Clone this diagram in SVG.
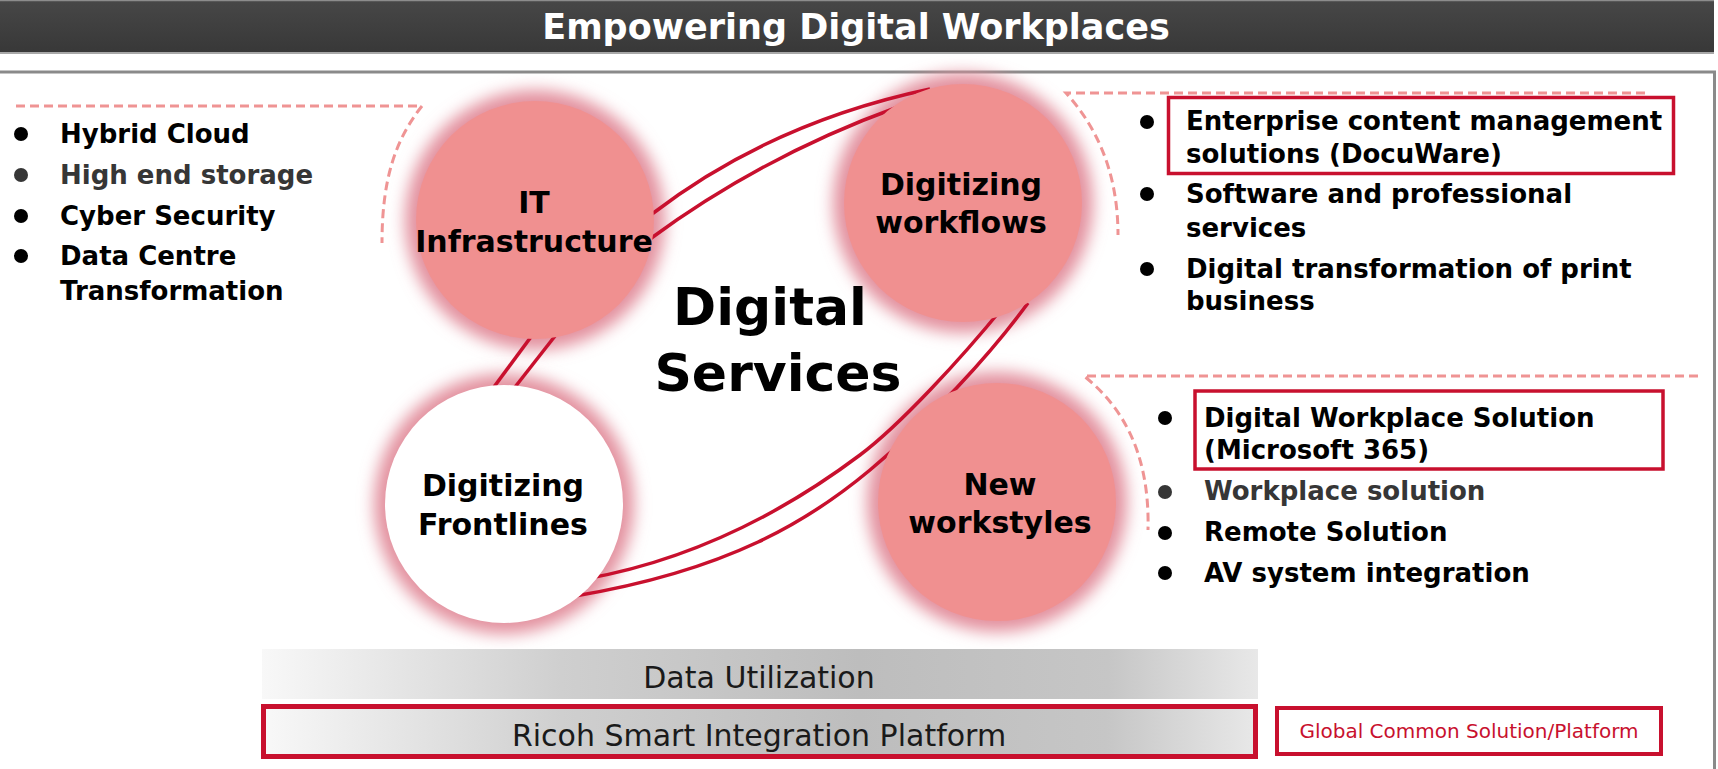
<svg xmlns="http://www.w3.org/2000/svg" width="1718" height="769" viewBox="0 0 1718 769">
  <defs>
    <linearGradient id="titleGrad" x1="0" y1="0" x2="0" y2="1">
      <stop offset="0" stop-color="#474747"/>
      <stop offset="1" stop-color="#383838"/>
    </linearGradient>
    <linearGradient id="barGrad" x1="0" y1="0" x2="1" y2="0">
      <stop offset="0" stop-color="#f8f8f8"/>
      <stop offset="0.3" stop-color="#cfcfcf"/>
      <stop offset="0.6" stop-color="#bdbdbd"/>
      <stop offset="0.85" stop-color="#c6c6c6"/>
      <stop offset="1" stop-color="#e8e8e8"/>
    </linearGradient>
    <filter id="soft" x="-25%" y="-25%" width="150%" height="150%">
      <feGaussianBlur stdDeviation="8"/>
    </filter>
    <style>
      .title { font-family: "DejaVu Sans", "Liberation Sans", sans-serif; font-weight: bold; font-size: 35px; fill: #ffffff; text-anchor: middle; }
      .bul { font-family: "DejaVu Sans", "Liberation Sans", sans-serif; font-weight: bold; font-size: 26px; fill: #000000; }
      .bul.dim { fill: #363636; }
      .dot { fill: #000000; }
      .dot.dim { fill: #363636; }
      .lbl { font-family: "DejaVu Sans", "Liberation Sans", sans-serif; font-weight: bold; font-size: 30px; fill: #000000; text-anchor: middle; }
      .big { font-family: "DejaVu Sans", "Liberation Sans", sans-serif; font-weight: bold; font-size: 52px; fill: #000000; text-anchor: middle; }
      .bar { font-family: "DejaVu Sans", "Liberation Sans", sans-serif; font-size: 30px; fill: #1a1a1a; text-anchor: middle; }
      .tag { font-family: "DejaVu Sans", "Liberation Sans", sans-serif; font-size: 20px; fill: #c8102e; text-anchor: middle; }
      .dash { fill: none; stroke: #ef9494; stroke-width: 3; stroke-dasharray: 9 5; }
      .hl { fill: none; stroke: #c8102e; stroke-width: 3.5; }
      .conn { fill: none; stroke: #c8102e; stroke-width: 3.5; }
      .halo { fill: #e3919f; filter: url(#soft); }
      .fill { fill: #f09090; }
      .fill.white { fill: #ffffff; }
    </style>
  </defs>

  <rect width="1718" height="769" fill="#ffffff"/>

  <!-- title banner -->
  <g id="banner">
    <rect x="0" y="0" width="1714" height="52" fill="url(#titleGrad)"/>
    <line x1="0" y1="0.5" x2="1714" y2="0.5" stroke="#8c8c8c" stroke-width="1.5"/>
    <line x1="0" y1="53" x2="1714" y2="53" stroke="#a8a8a8" stroke-width="2"/>
    <text class="title" x="856" y="39">Empowering Digital Workplaces</text>
  </g>

  <!-- content frame -->
  <g id="frame" fill="none" stroke="#8a8a8a" stroke-width="3">
    <path d="M0 72 H1714.5 V769"/>
  </g>

  <!-- soft halos behind the four circles -->
  <g id="halos">
    <circle class="halo" cx="535" cy="220" r="130"/>
    <circle class="halo" cx="963" cy="203" r="130"/>
    <circle class="halo" cx="504" cy="504" r="130"/>
    <circle class="halo" cx="997" cy="502" r="130"/>
  </g>

  <!-- double-line connectors -->
  <g id="connectors">
    <path class="conn" d="M652 214 Q771 122.5 930 89"/>
    <path class="conn" d="M650 239 Q763.5 155.5 898 107"/>
    <path class="conn" d="M542 322 L488 395"/>
    <path class="conn" d="M566 322 L508 396"/>
    <path class="conn" d="M1004 306 C960 360, 900 425, 860 455 S720 555, 585 579"/>
    <path class="conn" d="M1028 303 C990 355, 930 420, 870 470 S730 570, 575 596"/>
  </g>

  <!-- circles -->
  <g id="node-it">
    <circle class="fill" cx="535" cy="220" r="119"/>
    <text class="lbl" x="534" y="213">IT</text>
    <text class="lbl" x="534" y="252">Infrastructure</text>
  </g>
  <g id="node-workflows">
    <circle class="fill" cx="963" cy="203" r="119"/>
    <text class="lbl" x="961" y="195">Digitizing</text>
    <text class="lbl" x="961" y="233">workflows</text>
  </g>
  <g id="node-frontlines">
    <circle class="fill white" cx="504" cy="504" r="119"/>
    <text class="lbl" x="503" y="496">Digitizing</text>
    <text class="lbl" x="503" y="535">Frontlines</text>
  </g>
  <g id="node-workstyles">
    <circle class="fill" cx="997" cy="502" r="119"/>
    <text class="lbl" x="1000" y="495">New</text>
    <text class="lbl" x="1000" y="533">workstyles</text>
  </g>

  <g id="center-title">
    <text class="big" x="770" y="325">Digital</text>
    <text class="big" x="778" y="391">Services</text>
  </g>

  <!-- IT infrastructure offerings -->
  <g id="list-it">
    <path class="dash" d="M16 106 H422 C395 140, 382 180, 382 243"/>
    <circle class="dot" cx="21" cy="134" r="7"/>
    <circle class="dot dim" cx="21" cy="175" r="7"/>
    <circle class="dot" cx="21" cy="216" r="7"/>
    <circle class="dot" cx="21" cy="256" r="7"/>
    <text class="bul" x="60" y="143">Hybrid Cloud</text>
    <text class="bul dim" x="60" y="184">High end storage</text>
    <text class="bul" x="60" y="225">Cyber Security</text>
    <text class="bul" x="60" y="265">Data Centre</text>
    <text class="bul" x="60" y="300">Transformation</text>
  </g>

  <!-- workflow offerings -->
  <g id="list-workflows">
    <path class="dash" d="M1645 93 H1066 C1095 125, 1118 170, 1118 235"/>
    <rect class="hl" x="1168.5" y="97.5" width="505" height="76"/>
    <circle class="dot" cx="1147" cy="122" r="7"/>
    <circle class="dot" cx="1147" cy="194" r="7"/>
    <circle class="dot" cx="1147" cy="269" r="7"/>
    <text class="bul" x="1186" y="130">Enterprise content management</text>
    <text class="bul" x="1186" y="163">solutions (DocuWare)</text>
    <text class="bul" x="1186" y="203">Software and professional</text>
    <text class="bul" x="1186" y="237">services</text>
    <text class="bul" x="1186" y="278">Digital transformation of print</text>
    <text class="bul" x="1186" y="310">business</text>
  </g>

  <!-- workstyle offerings -->
  <g id="list-workstyles">
    <path class="dash" d="M1698 376 H1084 C1120 405, 1150 450, 1148 530"/>
    <rect class="hl" x="1195" y="391" width="468" height="78"/>
    <circle class="dot" cx="1165" cy="418" r="7"/>
    <circle class="dot dim" cx="1165" cy="492" r="7"/>
    <circle class="dot" cx="1165" cy="533" r="7"/>
    <circle class="dot" cx="1165" cy="573" r="7"/>
    <text class="bul" x="1204" y="427">Digital Workplace Solution</text>
    <text class="bul" x="1204" y="459">(Microsoft 365)</text>
    <text class="bul dim" x="1204" y="500">Workplace solution</text>
    <text class="bul" x="1204" y="541">Remote Solution</text>
    <text class="bul" x="1204" y="582">AV system integration</text>
  </g>

  <!-- foundation layers -->
  <g id="layer-data">
    <rect x="262" y="649" width="996" height="50" fill="url(#barGrad)"/>
    <text class="bar" x="759" y="688">Data Utilization</text>
  </g>
  <g id="layer-platform">
    <rect x="263.5" y="706.5" width="992" height="50" fill="url(#barGrad)" stroke="#c8102e" stroke-width="5"/>
    <text class="bar" x="759" y="746">Ricoh Smart Integration Platform</text>
  </g>
  <g id="legend-common">
    <rect x="1277" y="708" width="384" height="46" fill="#ffffff" stroke="#c8102e" stroke-width="4"/>
    <text class="tag" x="1469" y="738">Global Common Solution/Platform</text>
  </g>
</svg>
